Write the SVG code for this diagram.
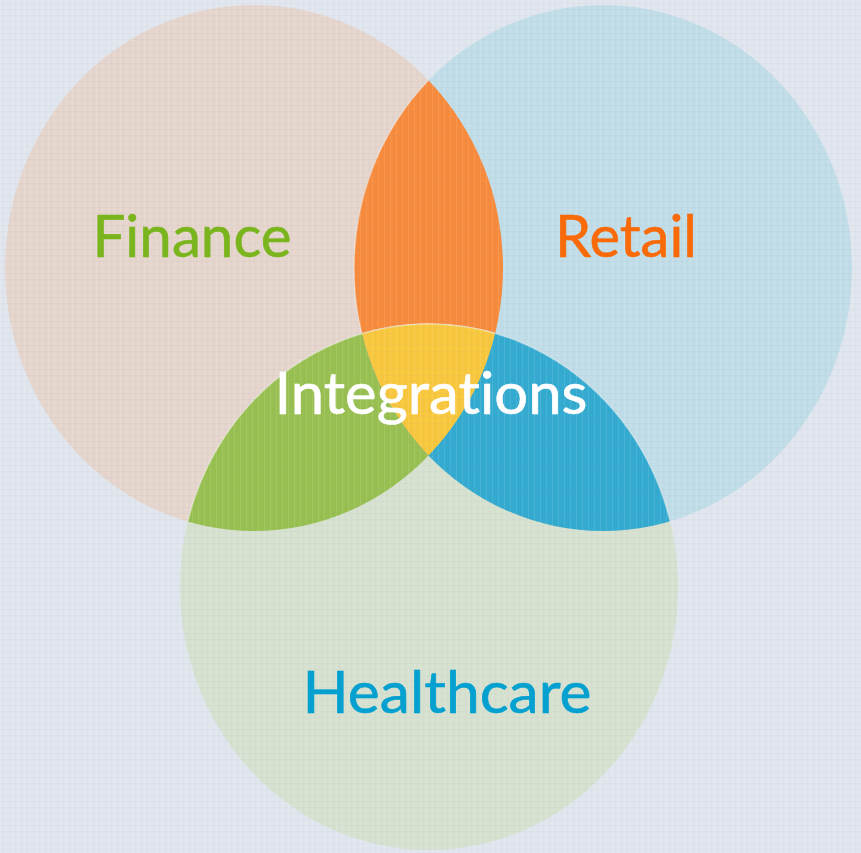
<svg xmlns="http://www.w3.org/2000/svg" width="861" height="853" viewBox="0 0 861 853">
  <style>
    .lbl { font-family: "Lato", "Open Sans", "Liberation Sans", sans-serif; font-size: 58px; text-anchor: middle; font-variant-ligatures: none; stroke-width: 0.6; }
    .edge { stroke: #ffffff; stroke-opacity: 0.35; stroke-width: 1.5; }
  </style>
  <defs>
    <pattern id="linen" width="6" height="6" patternUnits="userSpaceOnUse">
      <rect x="0" y="0" width="1" height="6" fill="#ffffff" fill-opacity="0.1"/>
      <rect x="0" y="3" width="6" height="1" fill="#8090a8" fill-opacity="0.05"/>
      <rect x="3" y="0" width="1" height="6" fill="#8090a8" fill-opacity="0.04"/>
    </pattern>
    <clipPath id="cF"><ellipse cx="254" cy="268" rx="249" ry="263"/></clipPath>
    <clipPath id="cR"><ellipse cx="603" cy="268" rx="249" ry="263"/></clipPath>
    <clipPath id="cH"><ellipse cx="429" cy="587" rx="249" ry="263"/></clipPath>
  </defs>

  <rect x="0" y="0" width="861" height="853" fill="#e1e6ee"/>

  <g id="finance">
    <ellipse cx="254" cy="268" rx="249" ry="263" fill="#e5d5cc"/>
  </g>
  <g id="retail">
    <ellipse cx="603" cy="268" rx="249" ry="263" fill="#c1dde8"/>
  </g>
  <g id="healthcare">
    <ellipse cx="429" cy="587" rx="249" ry="263" fill="#d6e1d0"/>
  </g>

  <g id="finance-retail" clip-path="url(#cF)">
    <ellipse cx="603" cy="268" rx="249" ry="263" fill="#f88a3b" class="edge"/>
  </g>
  <g id="finance-healthcare" clip-path="url(#cF)">
    <ellipse cx="429" cy="587" rx="249" ry="263" fill="#98c050" class="edge"/>
  </g>
  <g id="retail-healthcare" clip-path="url(#cR)">
    <ellipse cx="429" cy="587" rx="249" ry="263" fill="#33aad0" class="edge"/>
  </g>
  <g id="all-three" clip-path="url(#cF)">
    <g clip-path="url(#cR)">
      <ellipse cx="429" cy="587" rx="249" ry="263" fill="#f9c73c" class="edge"/>
    </g>
  </g>

  <rect x="0" y="0" width="861" height="853" fill="url(#linen)"/>

  <g id="labels">
    <text class="lbl" x="192" y="257" fill="#7ab51e" stroke="#7ab51e" textLength="199" lengthAdjust="spacingAndGlyphs">Finance</text>
    <text class="lbl" x="626" y="257" fill="#f96a08" stroke="#f96a08" textLength="142" lengthAdjust="spacingAndGlyphs">Retail</text>
    <text class="lbl" x="431" y="414" fill="#ffffff" stroke="#ffffff" textLength="313" lengthAdjust="spacingAndGlyphs">Integrations</text>
    <text class="lbl" x="447" y="713" fill="#03a0d0" stroke="#03a0d0" textLength="289" lengthAdjust="spacingAndGlyphs">Healthcare</text>
  </g>
</svg>
